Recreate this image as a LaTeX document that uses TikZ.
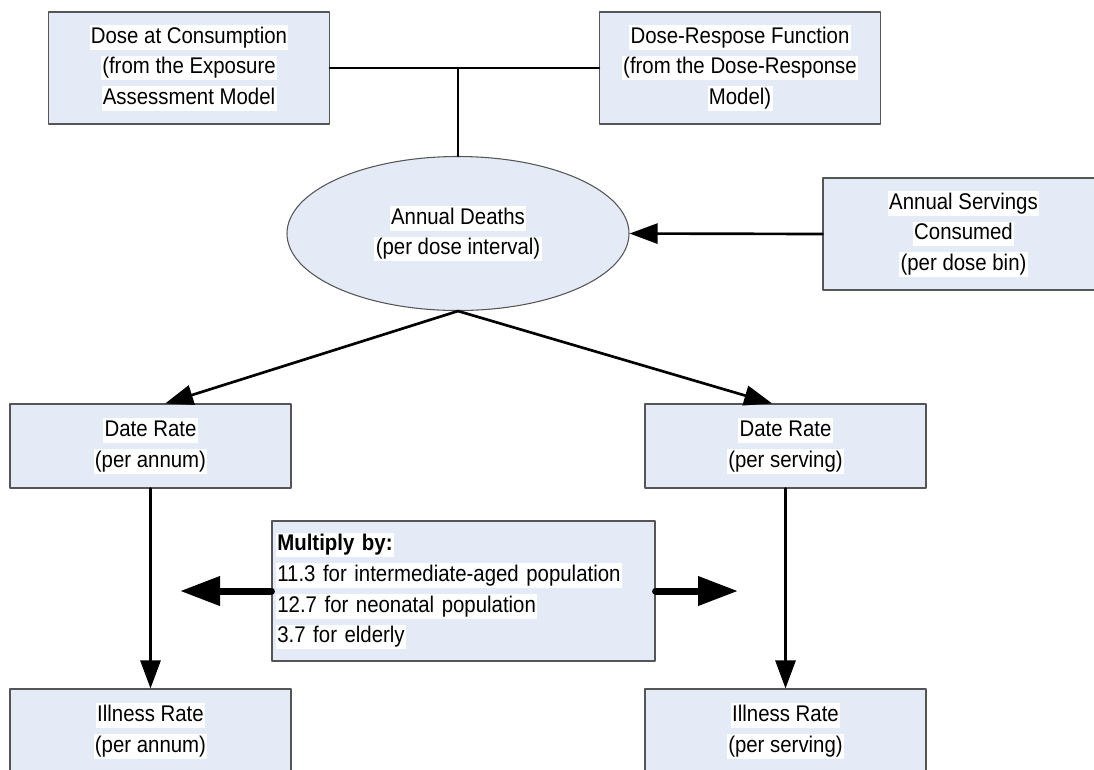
\documentclass[tikz,border=0pt]{standalone}
\usepackage{fontspec}
\setmainfont{Liberation Sans}[FakeStretch=0.9]
\usetikzlibrary{arrows.meta,shapes.geometric}

\definecolor{boxfill}{RGB}{228,235,246}
\definecolor{boxline}{RGB}{85,85,85}
\setlength{\fboxsep}{1pt}
\newcommand{\wl}[1]{\colorbox{white}{\rule[-3.8pt]{0pt}{16.5pt}#1}}

\begin{document}
\begin{tikzpicture}[
			x=0.75pt, y=-0.75pt,
			every node/.style={font=\fontsize{17}{23}\selectfont},
			line cap=round,
			line join=round,
			modelbox/.style={draw=boxline, fill=boxfill, line width=0.8pt, minimum width=210.75pt, minimum height=84pt, align=center, inner sep=0pt},
			ratebox/.style={modelbox, minimum height=63pt},
			deathoval/.style={ellipse, draw=boxline, fill=boxfill, line width=0.8pt, minimum width=256.5pt, minimum height=115.5pt, align=center, inner sep=0pt},
			factorbox/.style={draw=boxline, fill=boxfill, line width=0.8pt, text width=281.25pt, minimum height=105pt, align=left, inner sep=3pt},
			link/.style={line width=2pt},
			flow/.style={line width=2pt, -{Triangle[length=21pt,width=15pt]}},
			bigflow/.style={line width=5.25pt, -{Triangle[length=30pt,width=21pt]}}
			]
			\useasboundingbox (0,0) rectangle (1094,769);
			\clip (0,0) rectangle (1094,769);
			
			% inputs
			\node[modelbox] (dose) at (189,68) {\wl{Dose at Consumption}\\\wl{(from the Exposure}\\\wl{Assessment Model}};
			\node[modelbox] (dresp) at (740,68) {\wl{Dose-Respose Function}\\\wl{(from the Dose-Response}\\\wl{Model)}};
			\node[deathoval] (deaths) at (458,233.5) {\wl{Annual Deaths}\\\wl{(per dose interval)}};
			\node[modelbox] (servings) at (963.5,234) {\wl{Annual Servings}\\\wl{Consumed}\\\wl{(per dose bin)}};
			
			% rates
			\node[ratebox] (deathannum) at (150.5,446) {\wl{Date Rate}\\\wl{(per annum)}};
			\node[ratebox] (deathserving) at (785.5,446) {\wl{Date Rate}\\\wl{(per serving)}};
			\node[factorbox] (factor) at (463.5,591) {\wl{\textbf{Multiply by:}}\\\wl{11.3 for intermediate-aged population}\\\wl{12.7 for neonatal population}\\\wl{3.7 for elderly}};
			\node[ratebox] (illannum) at (150.5,731) {\wl{Illness Rate}\\\wl{(per annum)}};
			\node[ratebox] (illserving) at (785.5,731) {\wl{Illness Rate}\\\wl{(per serving)}};
			
			\coordinate (lefttip) at (180,591);
			\coordinate (righttip) at (738,591);
			
			% connectors
			\draw[link] (dose.east) -- (dresp.west);
			\draw[link] (deaths.north |- dose.east) -- (deaths.north);
			\draw[flow] (servings.west) -- (deaths.east);
			\draw[flow] (deaths.south) -- ([xshift=11pt]deathannum.north);
			\draw[flow] (deaths.south) -- ([xshift=-10pt]deathserving.north);
			\draw[flow] (deathannum) -- (illannum);
			\draw[flow] (deathserving) -- (illserving);
			\draw[bigflow] (factor.west) -- (lefttip);
			\draw[bigflow] (factor.east) -- (righttip);
		\end{tikzpicture}
\end{document}
